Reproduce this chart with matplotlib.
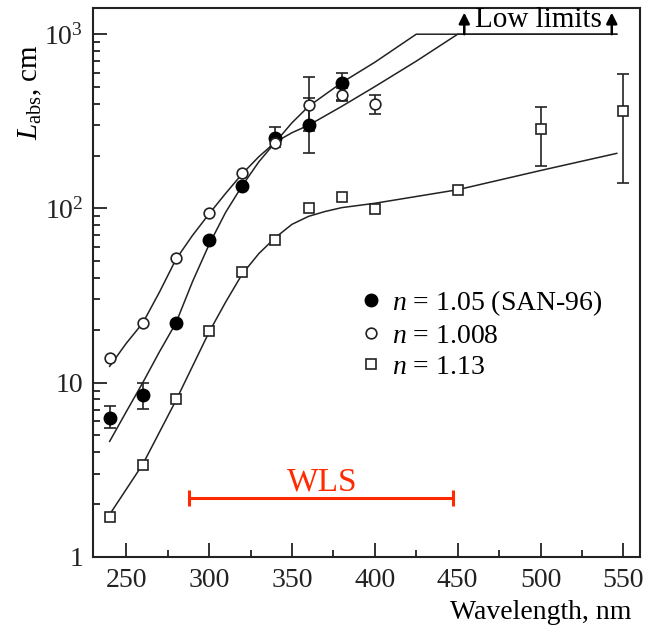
import numpy as np
import matplotlib
matplotlib.use("Agg")
import matplotlib.pyplot as plt
from matplotlib.ticker import LogLocator, NullFormatter

plt.rcParams['font.family'] = ['Liberation Serif', 'DejaVu Serif']
plt.rcParams['mathtext.fontset'] = 'custom'
plt.rcParams['mathtext.rm'] = 'Liberation Serif'
plt.rcParams['mathtext.it'] = 'Liberation Serif:italic'

# measured points
x_filled = [240, 260, 280, 300, 320, 340, 360, 380]
y_filled = [6.3, 8.5, 22, 66, 135, 255, 300, 527]
x_open = [240, 260, 280, 300, 320, 340, 360, 380, 400]
y_open = [13.8, 22, 52, 94, 159, 238, 390, 450, 400]
x_sq = [240, 260, 280, 300, 320, 340, 360, 380, 400, 450, 500, 550]
y_sq = [1.69, 3.37, 8.0, 19.7, 43, 66, 100, 116, 99, 128, 284, 364]

# error bars (lower, upper)
xe_filled = [240, 260, 340, 360, 380]
lo_filled = [5.5, 7.1, 225, 207, 420]
hi_filled = [7.3, 10.0, 295, 430, 600]
xe_open = [360, 380, 400]
lo_open = [280, 416, 350]
hi_open = [570, 490, 445]
xe_sq = [500, 550]
lo_sq = [176, 139]
hi_sq = [384, 594]

# fitted curves
x_fitA = [240, 250, 260, 270, 280, 290, 300, 310, 320, 330, 340, 350, 360, 380, 400, 425, 546]
y_fitA = [4.6, 6.8, 10, 15, 22, 38, 62, 95, 135, 185, 240, 310, 385, 527, 690, 1000, 1000]
x_fitB = [240, 250, 260, 270, 280, 290, 300, 310, 320, 330, 340, 350, 360, 380, 400, 425, 450, 546]
y_fitB = [12.4, 16.8, 22, 33, 51, 70, 93, 122, 158, 198, 240, 272, 300, 385, 500, 700, 1000, 1000]
x_fitC = [240, 260, 280, 300, 310, 320, 330, 340, 350, 360, 370, 380, 400, 450, 500, 546]
y_fitC = [1.75, 3.4, 7.9, 19.5, 29, 42, 55, 68, 81, 90, 96, 101, 107, 128, 165, 207]

wls_range = [288, 447]
wls_y = 2.18
limit_x = [454, 543]

fig = plt.figure(figsize=(6.51, 6.32), dpi=100)
ax = fig.add_axes([0.143, 0.119, 0.840, 0.868])

lc = '#222222'
ax.plot(x_fitA, y_fitA, '-', color=lc, lw=1.1)
ax.plot(x_fitB, y_fitB, '-', color=lc, lw=1.1)
ax.plot(x_fitC, y_fitC, '-', color=lc, lw=1.1)

for xe, lo, hi, ys, xs in [(xe_filled, lo_filled, hi_filled, y_filled, x_filled),
                           (xe_open, lo_open, hi_open, y_open, x_open),
                           (xe_sq, lo_sq, hi_sq, y_sq, x_sq)]:
    yc = np.array([ys[xs.index(v)] for v in xe])
    yerr = [yc - np.array(lo), np.array(hi) - yc]
    ax.errorbar(xe, yc, yerr=yerr, fmt='none', ecolor=lc, elinewidth=1.2,
                capsize=4, capthick=1.2)

ax.plot(x_filled, y_filled, 'o', ms=9, mfc='black', mec='black',
        label=r'$n$ = 1.05 (SAN-96)')
ax.plot(x_open, y_open, 'o', ms=7.7, mfc='white', mec=lc, mew=1.2,
        label=r'$n$ = 1.008')
ax.plot(x_sq, y_sq, 's', ms=7.8, mfc='white', mec=lc, mew=1.2,
        label=r'$n$ = 1.13')

# WLS range
wls_c = (wls_range[0] + wls_range[1]) / 2
ax.errorbar([wls_c], [wls_y], xerr=[(wls_range[1] - wls_range[0]) / 2],
            fmt='none', ecolor='#ff2a00', elinewidth=2.2, capsize=5.5, capthick=2.2)
ax.text(368, 2.39, 'WLS', color='#ff2a00', fontsize=24, ha='center', va='baseline')

# low limits
for xl in limit_x:
    ax.annotate('', xy=(xl, 1330), xytext=(xl, 1000),
                arrowprops=dict(arrowstyle='-|>', color='black', lw=1.8,
                                mutation_scale=16, shrinkA=0, shrinkB=0))
ax.text(sum(limit_x) / 2, 1020, 'Low limits', fontsize=21, ha='center', va='bottom')

ax.set_yscale('log')
ax.set_xlim(230, 560)
ax.set_ylim(1, 1410)
ax.set_xticks([250, 300, 350, 400, 450, 500, 550])
ax.set_xticks([275, 325, 375, 425, 475, 525], minor=True)
ax.set_yticks([1, 10, 100, 1000], ['1', '10', r'$10^2$', r'$10^3$'])
ax.yaxis.set_minor_locator(LogLocator(base=10, subs=np.arange(2, 10)))
ax.yaxis.set_minor_formatter(NullFormatter())
ax.tick_params(which='both', direction='in', top=False, right=False, width=1.3,
               labelsize=20, colors='#222222')
ax.tick_params(axis='x', which='major', length=10, pad=8)
ax.tick_params(axis='x', which='minor', length=5)
ax.tick_params(axis='y', which='major', length=10, pad=7)
ax.tick_params(axis='y', which='minor', length=5)
for s in ax.spines.values():
    s.set_linewidth(1.5)
    s.set_color('#222222')

ax.text(-0.115, 0.847, r'$L_{\mathrm{abs}}$, cm', transform=ax.transAxes,
        rotation=90, ha='center', va='center', fontsize=21)
ax.text(0.985, -0.102, 'Wavelength, nm', transform=ax.transAxes,
        ha='right', va='center', fontsize=20)

ax.legend(loc='upper left', bbox_to_anchor=(0.49, 0.49), frameon=False,
          fontsize=20, handlelength=0.7, handletextpad=0.4, labelspacing=0.2,
          borderpad=0, borderaxespad=0)

fig.savefig('out.png', dpi=100)
